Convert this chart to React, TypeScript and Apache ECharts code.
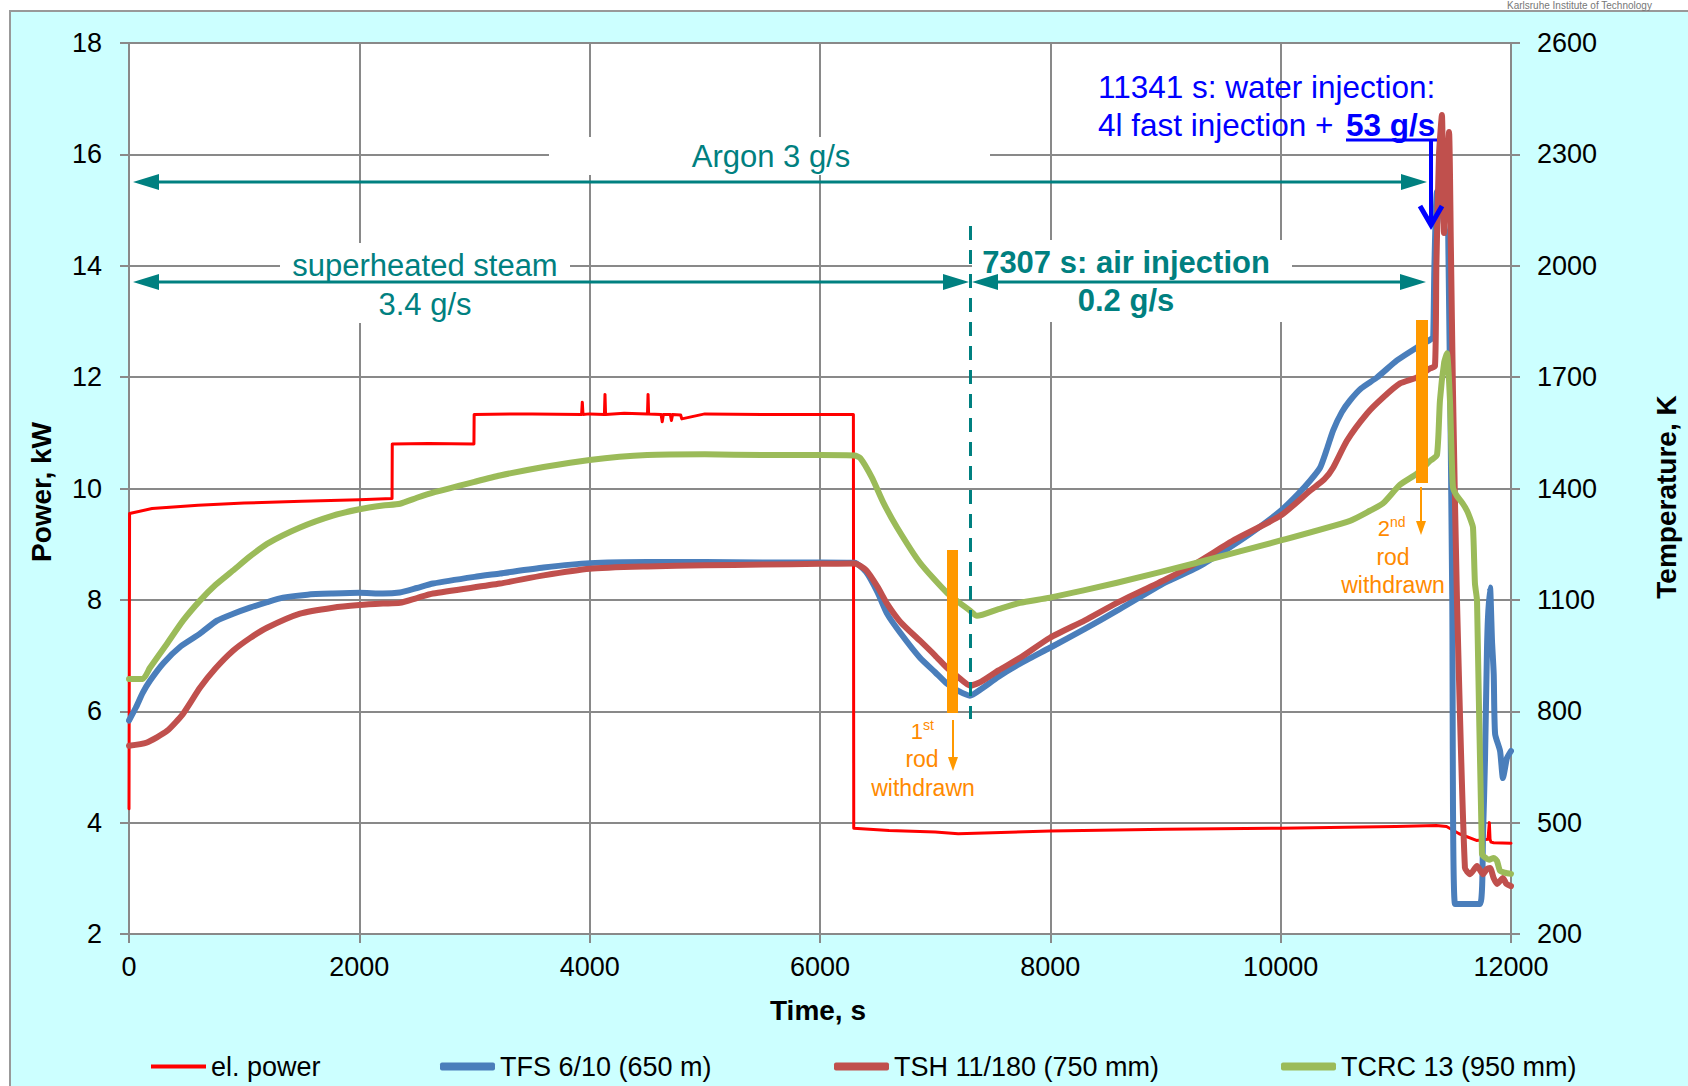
import React, { useEffect, useRef } from "react";
import * as echarts from "echarts";

const FONT = "'Liberation Sans', Arial, sans-serif";

// Axis ranges / ticks
const timeTicks = { min: 0, max: 12000, interval: 2000 };
const powerTicks = { min: 2, max: 18, interval: 2 };
const tempTicks = { min: 200, max: 2600, interval: 300 };

// Legend / series names
const seriesNames = ["el. power", "TFS 6/10 (650 m)", "TSH 11/180 (750 mm)", "TCRC 13 (950 mm)"];

// el. power, kW  [time s, kW]
const elPower: [number, number][] = [
  [0, 4.25], [5, 9.55], [200, 9.64], [600, 9.7], [1000, 9.74], [1500, 9.77], [2000, 9.8], [2284, 9.82],
  [2286, 10.8], [2600, 10.81], [2995, 10.8], [2997, 11.33], [3500, 11.34], [3930, 11.33], [3936, 11.55],
  [3942, 11.33], [4000, 11.34], [4128, 11.33], [4133, 11.69], [4138, 11.33], [4300, 11.35], [4502, 11.34],
  [4507, 11.69], [4512, 11.34], [4620, 11.33], [4630, 11.2], [4640, 11.33], [4700, 11.33], [4710, 11.22],
  [4720, 11.33], [4790, 11.32], [4800, 11.25], [5000, 11.34], [5500, 11.33], [6000, 11.33], [6290, 11.33],
  [6293, 3.9], [6600, 3.86], [7000, 3.83], [7200, 3.8], [7500, 3.82], [8000, 3.85], [9000, 3.88],
  [10000, 3.9], [11000, 3.93], [11350, 3.95], [11440, 3.93], [11550, 3.8], [11700, 3.68], [11800, 3.7],
  [11812, 4.0], [11818, 3.7], [11826, 3.65], [11850, 3.64], [12000, 3.63],
];

// TFS 6/10 (650 mm), K
const tfs: [number, number][] = [
  [0, 775], [60, 810], [120, 850], [182, 882], [300, 930], [450, 975], [616, 1009], [764, 1044], [900, 1062],
  [1050, 1079], [1200, 1094], [1337, 1106], [1550, 1114], [1771, 1117], [2000, 1119], [2205, 1117],
  [2350, 1120], [2500, 1132], [2640, 1144], [3000, 1162], [3221, 1171], [3600, 1187], [4000, 1199],
  [4500, 1202], [5000, 1202], [5500, 1201], [6000, 1201], [6300, 1200], [6400, 1175], [6500, 1120],
  [6582, 1063], [6700, 1010], [6868, 944], [7000, 905], [7103, 874], [7200, 855], [7302, 842], [7400, 860],
  [7550, 893], [7737, 928], [7997, 971], [8300, 1022], [8579, 1071], [9000, 1147], [9273, 1187],
  [9500, 1230], [9734, 1278], [10000, 1340], [10150, 1385], [10255, 1421], [10342, 1456], [10400, 1505],
  [10455, 1556], [10530, 1605], [10602, 1637], [10700, 1670], [10836, 1699], [11010, 1745], [11183, 1780],
  [11314, 1804], [11325, 1812], [11335, 2000], [11358, 2200], [11390, 2170], [11427, 2096], [11455, 2080],
  [11490, 1100], [11514, 281], [11731, 281], [11757, 469], [11774, 666], [11791, 960], [11800, 1052],
  [11818, 1133], [11835, 990], [11850, 900], [11862, 739], [11905, 693], [11930, 620], [11950, 650],
  [11965, 674], [12000, 693],
];

// TSH 11/180 (750 mm), K
const tsh: [number, number][] = [
  [0, 707], [150, 715], [330, 747], [469, 793], [616, 863], [750, 915], [903, 963], [1050, 997], [1198, 1025],
  [1485, 1063], [1771, 1079], [2000, 1086], [2205, 1090], [2353, 1092], [2500, 1105], [2640, 1117],
  [3221, 1144], [3600, 1166], [4000, 1184], [4500, 1190], [5000, 1193], [5500, 1195], [6000, 1197],
  [6300, 1198], [6400, 1180], [6500, 1135], [6582, 1090], [6700, 1040], [6868, 990], [7000, 950],
  [7103, 917], [7200, 892], [7302, 869], [7400, 880], [7550, 910], [7737, 944], [7997, 998], [8300, 1045],
  [8579, 1092], [9000, 1155], [9273, 1200], [9600, 1262], [10000, 1327], [10255, 1394], [10380, 1425],
  [10455, 1456], [10576, 1529], [10750, 1602], [10889, 1645], [11036, 1683], [11183, 1699], [11296, 1723],
  [11340, 1730], [11352, 2000], [11375, 2300], [11400, 2406], [11418, 2088], [11440, 2250], [11462, 2360],
  [11478, 2050], [11496, 1664], [11531, 1098], [11600, 378], [11644, 361], [11705, 383], [11757, 361],
  [11790, 375], [11818, 378], [11850, 350], [11880, 335], [11930, 351], [11960, 335], [12000, 329],
];

// TCRC 13 (950 mm), K
const tcrc: [number, number][] = [
  [0, 887], [120, 887], [182, 917], [330, 982], [469, 1044], [616, 1098], [750, 1140], [903, 1179],
  [1050, 1217], [1198, 1251], [1485, 1295], [1771, 1327], [2000, 1344], [2205, 1354], [2353, 1359],
  [2500, 1375], [2640, 1389], [3000, 1418], [3221, 1435], [3600, 1458], [4000, 1477], [4500, 1490],
  [5000, 1492], [5500, 1490], [6000, 1490], [6300, 1489], [6350, 1482], [6450, 1430], [6550, 1362],
  [6669, 1295], [6868, 1200], [7103, 1119], [7302, 1071], [7363, 1057], [7550, 1075], [7737, 1092],
  [7997, 1106], [8579, 1146], [9273, 1200], [10000, 1260], [10602, 1313], [10775, 1340], [10889, 1360],
  [11036, 1410], [11183, 1440], [11300, 1475], [11357, 1490], [11383, 1637], [11420, 1740], [11444, 1764],
  [11470, 1637], [11496, 1403], [11530, 1380], [11580, 1360], [11618, 1340], [11650, 1315], [11670, 1295],
  [11687, 1144], [11705, 1098], [11748, 415], [11780, 405], [11810, 400], [11850, 405], [11878, 397],
  [11905, 370], [11950, 365], [12000, 362],
];

const seriesColors = ["#FF0000", "#4A7EBB", "#C0504D", "#9BBB59"];

const TEAL = "#008080";
const BLUE = "#0000FF";
const ORANGE_BAR = "#FF9900";
const ORANGE_TXT = "#FF8A00";
const GRID = "#898989";

function txt(x: number, y: number, text: string, opts: any = {}) {
  const align = opts.align || "center";
  const valign = opts.valign || "middle";
  return {
    type: "text",
    x,
    y,
    z: 100,
    rotation: opts.rotation || 0,
    style: {
      text,
      fill: opts.color || "#000",
      font: `${opts.bold ? "bold " : ""}${opts.size || 27}px ${FONT}`,
      textAlign: align,
      align,
      textVerticalAlign: valign,
      verticalAlign: valign,
    },
  };
}
function ln(x1: number, y1: number, x2: number, y2: number, color: string, w: number, dash?: number[]) {
  return {
    type: "line",
    z: 100,
    shape: { x1, y1, x2, y2 },
    style: { stroke: color, lineWidth: w, lineDash: dash },
  };
}
function tri(points: number[][], color: string) {
  return { type: "polygon", z: 100, shape: { points }, style: { fill: color } };
}
function box(x: number, y: number, w: number, h: number, color: string, z = 99) {
  return { type: "rect", z, shape: { x, y, width: w, height: h }, style: { fill: color } };
}

function buildOption() {
  const axisCommon = {
    axisLine: { show: true, lineStyle: { color: GRID, width: 2 } },
    axisTick: { show: true, inside: false, length: 9, lineStyle: { color: GRID, width: 2 } },
    axisLabel: { color: "#000", fontSize: 27, fontFamily: FONT, formatter: (v: number) => String(v) },
  };
  const legendBase = (name: string, left: number, h: number, icon: string) => ({
    data: [name],
    left,
    top: 1048,
    itemWidth: 55,
    itemHeight: h,
    icon,
    selectedMode: false,
    textStyle: { color: "#000", fontSize: 27, fontFamily: FONT },
  });

  const graphic: any[] = [
    // header text at the very top
    txt(1507, 0, "Karlsruhe Institute of Technology", { align: "left", valign: "top", size: 10, color: "#777" }),
    // axis titles
    txt(41, 492, "Power, kW", { bold: true, size: 28, rotation: Math.PI / 2 }),
    txt(1666, 497, "Temperature, K", { bold: true, size: 28, rotation: Math.PI / 2 }),
    txt(818, 1010, "Time, s", { bold: true, size: 28 }),
    // white label boxes covering the grid
    box(549, 137, 441, 38, "#fff"),
    box(280, 243, 290, 80, "#fff"),
    box(972, 240, 320, 82, "#fff"),
    // Argon arrow
    ln(150, 182, 1410, 182, TEAL, 3),
    tri([[133, 182], [159, 174], [159, 190]], TEAL),
    tri([[1427, 182], [1401, 174], [1401, 190]], TEAL),
    txt(771, 156, "Argon 3 g/s", { size: 31, color: TEAL }),
    // superheated steam arrow
    ln(150, 282, 955, 282, TEAL, 3),
    tri([[133, 282], [159, 274], [159, 290]], TEAL),
    tri([[969, 282], [943, 274], [943, 290]], TEAL),
    txt(425, 265, "superheated steam", { size: 31, color: TEAL }),
    txt(425, 304, "3.4 g/s", { size: 31, color: TEAL }),
    // air injection arrow
    ln(988, 282, 1410, 282, TEAL, 3),
    tri([[972, 282], [998, 274], [998, 290]], TEAL),
    tri([[1426, 282], [1400, 274], [1400, 290]], TEAL),
    txt(1126, 262, "7307 s: air injection", { size: 31, color: TEAL, bold: true }),
    txt(1126, 300, "0.2 g/s", { size: 31, color: TEAL, bold: true }),
    // dashed line at 7307 s
    ln(970.5, 226, 970.5, 719, TEAL, 3, [14, 10]),
    // water injection annotation
    txt(1098, 87, "11341 s: water injection:", { size: 31.5, color: BLUE, align: "left" }),
    txt(1098, 125, "4l fast injection + ", { size: 31.5, color: BLUE, align: "left" }),
    txt(1346, 125, "53 g/s", { size: 31.5, color: BLUE, align: "left", bold: true }),
    ln(1346, 140, 1437, 140, BLUE, 3),
    ln(1431, 140, 1431, 222, BLUE, 4),
    {
      type: "polyline",
      z: 100,
      shape: { points: [[1420, 206], [1431, 225], [1442, 206]] },
      style: { stroke: BLUE, lineWidth: 5, fill: null },
    },
    // 1st rod
    box(947, 550, 11, 163, ORANGE_BAR, 101),
    ln(953, 720, 953, 758, ORANGE_BAR, 2),
    tri([[953, 771], [948, 757], [958, 757]], ORANGE_BAR),
    txt(923, 731, "1", { size: 22, color: ORANGE_TXT, align: "right" }),
    txt(923, 725, "st", { size: 14, color: ORANGE_TXT, align: "left" }),
    txt(922, 759, "rod", { size: 23, color: ORANGE_TXT }),
    txt(923, 788, "withdrawn", { size: 23, color: ORANGE_TXT }),
    // 2nd rod
    box(1416, 320, 12, 163, ORANGE_BAR, 101),
    ln(1421, 487, 1421, 522, ORANGE_BAR, 2),
    tri([[1421, 535], [1416, 521], [1426, 521]], ORANGE_BAR),
    txt(1390, 528, "2", { size: 22, color: ORANGE_TXT, align: "right" }),
    txt(1390, 522, "nd", { size: 14, color: ORANGE_TXT, align: "left" }),
    txt(1393, 557, "rod", { size: 23, color: ORANGE_TXT }),
    txt(1393, 585, "withdrawn", { size: 23, color: ORANGE_TXT }),
  ];

  return {
    animation: false,
    backgroundColor: "transparent",
    grid: {
      left: 129,
      top: 43,
      width: 1382,
      height: 891,
      show: true,
      backgroundColor: "#fff",
      borderColor: GRID,
      borderWidth: 2,
    },
    xAxis: {
      type: "value",
      ...timeTicks,
      ...axisCommon,
      axisLabel: { ...axisCommon.axisLabel, margin: 19 },
      splitLine: { show: true, lineStyle: { color: GRID, width: 2 } },
    },
    yAxis: [
      {
        type: "value",
        position: "left",
        ...powerTicks,
        ...axisCommon,
        axisLabel: { ...axisCommon.axisLabel, margin: 27 },
        splitLine: { show: true, lineStyle: { color: GRID, width: 2 } },
      },
      {
        type: "value",
        position: "right",
        ...tempTicks,
        ...axisCommon,
        axisLabel: { ...axisCommon.axisLabel, margin: 26 },
        splitLine: { show: false },
      },
    ],
    legend: [
      legendBase(seriesNames[0], 146, 4, "rect"),
      legendBase(seriesNames[1], 435, 8, "roundRect"),
      legendBase(seriesNames[2], 829, 8, "roundRect"),
      legendBase(seriesNames[3], 1276, 8, "roundRect"),
    ],
    series: [elPower, tfs, tsh, tcrc].map((d, i) => ({
      name: seriesNames[i],
      type: "line",
      data: d,
      yAxisIndex: i === 0 ? 0 : 1,
      showSymbol: false,
      symbol: "none",
      smooth: i === 0 ? false : 0.2,
      z: 2 + i,
      color: seriesColors[i],
      itemStyle: { color: seriesColors[i] },
      lineStyle: { width: i === 0 ? 3 : 6, color: seriesColors[i], join: "round", cap: "round" },
    })),
    graphic,
  };
}

export default function App() {
  const ref = useRef<HTMLDivElement>(null);
  useEffect(() => {
    if (!ref.current) return;
    const chart = echarts.init(ref.current, null, { renderer: "svg" });
    chart.setOption(buildOption() as any);
    return () => chart.dispose();
  }, []);
  return (
    <div style={{ position: "absolute", left: 0, top: 0, width: 1688, height: 1086, background: "#fff", overflow: "hidden" }}>
      <div
        style={{
          position: "absolute",
          left: 9,
          top: 10,
          width: 1700,
          height: 1100,
          background: "#CCFFFF",
          border: "2px solid #999",
          boxSizing: "border-box",
        }}
      />
      <div ref={ref} style={{ position: "absolute", left: 0, top: 0, width: 1688, height: 1086 }} />
    </div>
  );
}
